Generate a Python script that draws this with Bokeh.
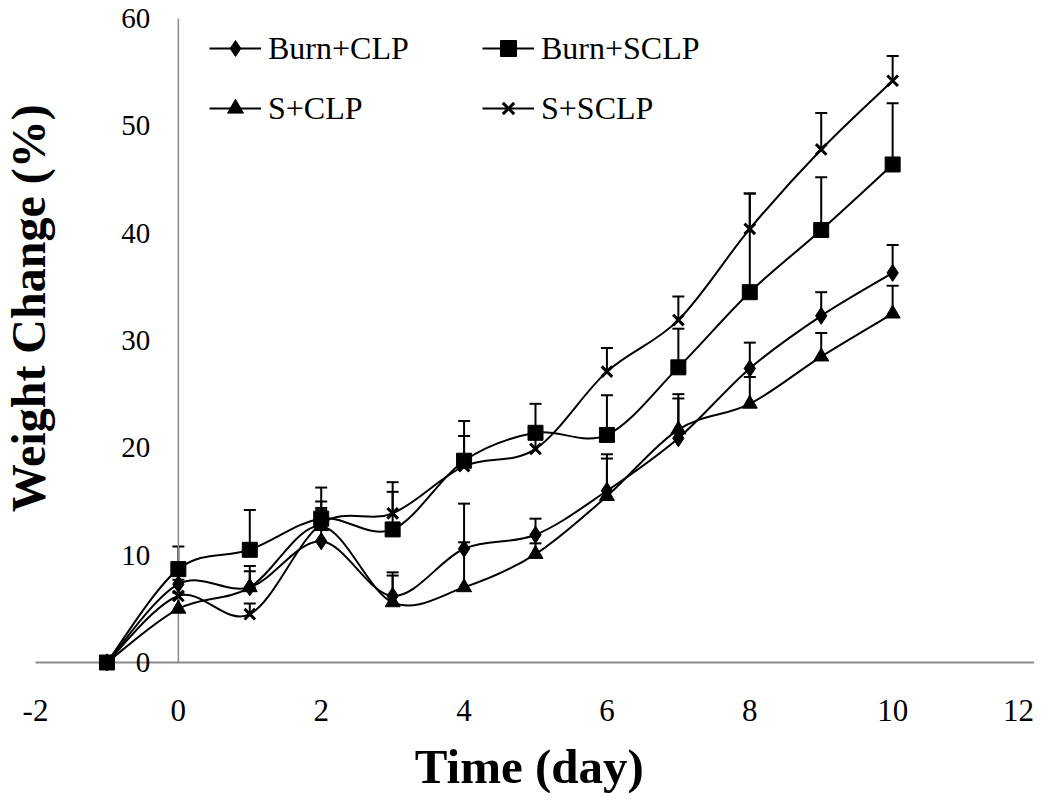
import numpy as np
from bokeh.plotting import figure
from bokeh.models import (ColumnDataSource, Whisker, TeeHead, Legend, LegendItem,
                          Range1d, Label)
from bokeh.embed import file_html
from bokeh.resources import INLINE
from bokeh.core.properties import value

# ---------------- data ----------------
days = [-1, 0, 1, 2, 3, 4, 5, 6, 7, 8, 9, 10]

burn_clp = [0, 7.3, 7.0, 11.3, 6.2, 10.6, 11.9, 16.0, 20.9, 27.4, 32.3, 36.3]
burn_sclp = [0, 8.7, 10.5, 13.4, 12.4, 18.8, 21.4, 21.2, 27.5, 34.5, 40.3, 46.4]
s_clp = [0, 5.0, 7.0, 12.7, 5.6, 7.0, 10.1, 15.5, 21.7, 24.1, 28.5, 32.5]
s_sclp = [0, 6.2, 4.5, 12.9, 13.9, 18.3, 19.9, 27.1, 31.9, 40.4, 47.8, 54.2]

burn_clp_err = [0, 1.0, 1.5, 3.7, 2.2, 4.2, 1.5, 3.4, 4.1, 2.4, 2.2, 2.6]
burn_sclp_err = [0, 2.1, 3.7, 2.9, 3.5, 3.7, 2.7, 3.7, 3.6, 9.2, 4.9, 5.7]
s_clp_err = [0, 1.5, 2.0, 1.5, 2.5, 4.2, 1.0, 3.5, 2.9, 2.5, 2.2, 2.6]
s_sclp_err = [0, 1.5, 1.0, 1.5, 2.9, 2.8, 1.0, 2.2, 2.2, 3.3, 3.4, 2.3]

series_names = ["Burn+CLP", "Burn+SCLP", "S+CLP", "S+SCLP"]
x_ticks = [-2, 0, 2, 4, 6, 8, 10, 12]
y_ticks = [0, 10, 20, 30, 40, 50, 60]
x_title = "Time  (day)"
y_title = "Weight Change (%)"

FONT = "Liberation Serif"
AXIS_GRAY = "#8a8a8a"

series = [
    (series_names[0], burn_clp, burn_clp_err, "diamond", 17, 1),
    (series_names[1], burn_sclp, burn_sclp_err, "square", 15, 1),
    (series_names[2], s_clp, s_clp_err, "triangle", 15, 1),
    (series_names[3], s_sclp, s_sclp_err, "x", 15, 3),
]

# the frame covers the whole canvas; axes are drawn where they cross (x=0, y=0)
p = figure(width=1034, height=793,
           x_range=Range1d(-2.49, 11.986), y_range=Range1d(-12.205, 61.677),
           output_backend="svg", toolbar_location=None,
           min_border_left=0, min_border_right=0,
           min_border_top=0, min_border_bottom=0)
p.background_fill_color = "white"
p.border_fill_color = "white"
p.outline_line_color = None
p.xgrid.visible = False
p.ygrid.visible = False
p.xaxis.visible = False
p.yaxis.visible = False

# x axis line (y = 0) and its labels
p.segment(x0=[x_ticks[0]], y0=[0], x1=[x_ticks[-1]], y1=[0],
          line_color=AXIS_GRAY, line_width=2)
x_label_shift = [0] * (len(x_ticks) - 1) + [-17]   # keep last label inside canvas
p.text(x=x_ticks, y=[0] * len(x_ticks), text=[str(t) for t in x_ticks],
       x_offset=x_label_shift, y_offset=38, text_align="center", text_baseline="top",
       text_font=value(FONT), text_font_size="31px", text_color="black")

# y axis line (x = 0) and its labels
p.segment(x0=[0], y0=[y_ticks[0]], x1=[0], y1=[y_ticks[-1]],
          line_color=AXIS_GRAY, line_width=1.5)
p.text(x=[0] * len(y_ticks), y=y_ticks, text=[str(t) for t in y_ticks],
       x_offset=-28, text_align="right", text_baseline="middle",
       text_font=value(FONT), text_font_size="29px", text_color="black")

# error bars (upper only)
for name, vals, errs, mk, sz, lw in series:
    xs = [d for d, e in zip(days, errs) if e > 0]
    lo = [v for v, e in zip(vals, errs) if e > 0]
    up = [v + e for v, e in zip(vals, errs) if e > 0]
    src = ColumnDataSource(dict(x=xs, lower=lo, upper=up))
    w = Whisker(base="x", lower="lower", upper="upper", source=src,
                dimension="height", line_color="black", line_width=2,
                lower_head=None,
                upper_head=TeeHead(size=12, line_color="black", line_width=2))
    p.add_layout(w)

# smoothed lines (Catmull-Rom style Bezier segments through the data points)
line_renderers = []
for name, vals, errs, mk, sz, lw in series:
    n = len(days)
    x0, y0, x1, y1, cx0, cy0, cx1, cy1 = [], [], [], [], [], [], [], []
    for i in range(n - 1):
        a = max(i - 1, 0)
        b = min(i + 2, n - 1)
        x0.append(days[i]); y0.append(vals[i])
        x1.append(days[i + 1]); y1.append(vals[i + 1])
        cx0.append(days[i] + (days[i + 1] - days[a]) / 6.0)
        cy0.append(vals[i] + (vals[i + 1] - vals[a]) / 6.0)
        cx1.append(days[i + 1] - (days[b] - days[i]) / 6.0)
        cy1.append(vals[i + 1] - (vals[b] - vals[i]) / 6.0)
    r = p.bezier(x0=x0, y0=y0, x1=x1, y1=y1, cx0=cx0, cy0=cy0, cx1=cx1, cy1=cy1,
                 line_color="black", line_width=2)
    line_renderers.append(r)

marker_renderers = []
for name, vals, errs, mk, sz, lw in series:
    r = p.scatter(x=days, y=vals, marker=mk, size=sz, fill_color="black",
                  line_color="black", line_width=lw)
    marker_renderers.append(r)

# legends: two columns
def make_legend(idx, x):
    items = [LegendItem(label=series_names[i],
                        renderers=[line_renderers[i], marker_renderers[i]])
             for i in idx]
    lg = Legend(items=items, location=(x, 665), orientation="vertical",
                padding=0, margin=0, spacing=20,
                glyph_width=52, glyph_height=40, label_height=40,
                label_standoff=7,
                label_text_font=FONT, label_text_font_size="32px",
                label_text_color="black",
                border_line_color=None, background_fill_alpha=0)
    p.add_layout(lg)

make_legend([0, 2], 209)
make_legend([1, 3], 482)

# axis titles
p.add_layout(Label(x=5, y=-9.7, text=x_title, text_align="center",
                   text_baseline="alphabetic", text_font=FONT,
                   text_font_size="49px", text_font_style="bold",
                   text_color="black"))
p.add_layout(Label(x=-2.098, y=33.0, text=y_title, angle=np.pi / 2,
                   text_align="center", text_baseline="middle",
                   text_font=FONT, text_font_size="48px",
                   text_font_style="bold", text_color="black"))

open("out.html", "w").write(file_html(p, INLINE))
